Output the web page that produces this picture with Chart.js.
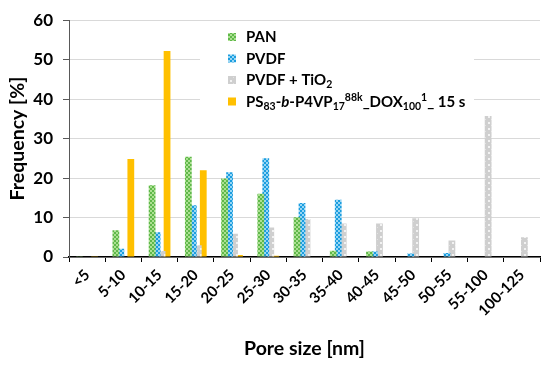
<!DOCTYPE html>
<html><head><meta charset="utf-8">
<script src="https://cdn.jsdelivr.net/npm/chart.js@4/dist/chart.umd.min.js"></script>
<style>html,body{margin:0;padding:0;background:#fff}#wrap{width:550px;height:365px}</style>
</head><body><div id="wrap"><canvas id="c" width="550" height="365"></canvas></div>
<script>
const categories = ['<5','5-10','10-15','15-20','20-25','25-30','30-35','35-40','40-45','45-50','50-55','55-100','100-125'];
const panValues      = [0.2, 6.8, 18.2, 25.4, 19.9, 16.0, 10.1, 1.6, 1.4, 0, 0, 0, 0];
const pvdfValues     = [0, 2.1, 6.3, 13.1, 21.5, 25.0, 13.7, 14.5, 1.4, 0.9, 1.0, 0, 0];
const pvdfTiO2Values = [0, 0, 1.5, 3.0, 5.9, 7.5, 9.6, 8.5, 8.5, 9.8, 4.2, 35.7, 5.0];
const psValues       = [0.2, 24.8, 52.2, 22.0, 0.5, 0.3, 0, 0, 0, 0, 0, 0, 0];
const seriesLabels = ['PAN', 'PVDF', 'PVDF + TiO<sub>2</sub>',
  'PS<sub>83</sub>-<i>b</i>-P4VP<sub>17</sub><sup>88k</sup>_DOX<sub>100</sub><sup>1</sup>_ 15 s'];
const yTicks = [0, 10, 20, 30, 40, 50, 60];
const xTitle = 'Pore size [nm]';
const yTitle = 'Frequency [%]';

function makePattern(kind) {
  const c = document.createElement('canvas');
  const g = c.getContext('2d');
  if (kind === 'green' || kind === 'blue') {
    c.width = 4; c.height = 4;
    g.fillStyle = kind === 'green' ? '#5fb84a' : '#1b9ddf';
    g.fillRect(0, 0, 4, 4);
    g.fillStyle = kind === 'green' ? '#ace092' : '#98d6f4';
    g.fillRect(0, 0, 2, 2); g.fillRect(2, 2, 2, 2);
  } else {
    c.width = 6; c.height = 6;
    g.fillStyle = '#cfcfcf'; g.fillRect(0, 0, 6, 6);
    g.fillStyle = '#f2f2f2'; g.fillRect(2, 2, 2, 2);
    g.fillStyle = '#e2e2e2'; g.fillRect(5, 5, 1, 1);
  }
  return document.getElementById('c').getContext('2d').createPattern(c, 'repeat');
}
const fills = [makePattern('green'), makePattern('blue'), makePattern('gray'), '#ffc000'];
const stripTags = s => s.replace(/<[^>]+>/g, '');

const richLegend = {
  id: 'richLegend',
  afterDatasetsDraw(chart) {
    const ctx = chart.ctx;
    ctx.save();
    ctx.fillStyle = '#fff';
    ctx.fillRect(200, 22, 274, 95);
    const rows = [37, 58.5, 80, 101.5];
    seriesLabels.forEach((lab, i) => {
      const cy = rows[i];
      ctx.fillStyle = fills[i];
      ctx.fillRect(228, cy - 4, 8, 8);
      let x = 246;
      const re = /<(sub|sup|i)>(.*?)<\/\1>|([^<]+)/g;
      let m;
      ctx.fillStyle = '#000';
      ctx.textBaseline = 'alphabetic';
      while ((m = re.exec(lab))) {
        let txt, font, dy = 0;
        if (m[3] !== undefined) { txt = m[3]; font = 'bold 15px Lato'; }
        else if (m[1] === 'i') { txt = m[2]; font = 'italic bold 15px Lato'; }
        else { txt = m[2]; font = 'bold 10.5px Lato'; dy = m[1] === 'sub' ? 3 : -6; }
        ctx.font = font;
        ctx.fillText(txt, x, cy + 5 + dy);
        x += ctx.measureText(txt).width;
      }
    });
    ctx.restore();
  }
};

const dataSeries = [panValues, pvdfValues, pvdfTiO2Values, psValues];
new Chart(document.getElementById('c'), {
  type: 'bar',
  data: {
    labels: categories,
    datasets: dataSeries.map((vals, i) => ({
      label: stripTags(seriesLabels[i]),
      data: vals,
      backgroundColor: fills[i],
      borderWidth: 0
    }))
  },
  options: {
    responsive: false, animation: false, devicePixelRatio: 1,
    layout: { padding: { left: 0, right: 10, top: 15, bottom: 0 } },
    plugins: { legend: { display: false }, tooltip: { enabled: false } },
    datasets: { bar: { categoryPercentage: 0.55, barPercentage: 1.36 } },
    scales: {
      x: {
        grid: { display: true, offset: true, drawOnChartArea: false, drawTicks: true, tickLength: 5, tickColor: '#000', lineWidth: 1 },
        border: { display: true, color: '#000', width: 1.5 },
        ticks: { font: { family: 'Lato', weight: 'bold', size: 15 }, color: '#000', maxRotation: 45, minRotation: 45, autoSkip: false, padding: 4 },
        title: { display: true, text: xTitle, font: { family: 'Lato', weight: 'bold', size: 19.5 }, color: '#000', padding: { top: 0, bottom: 4.5 } },
        afterFit(s) { s.height = 108; }
      },
      y: {
        min: 0, max: 60,
        afterBuildTicks(s) { s.ticks = yTicks.map(v => ({ value: v })); },
        grid: { color: '#d9d9d9', tickColor: '#595959', tickLength: 6, lineWidth: 1 },
        border: { display: true, color: '#595959', width: 1 },
        ticks: { font: { family: 'Lato', weight: 'bold', size: 17 }, color: '#000', padding: 10 },
        title: { display: true, text: yTitle, font: { family: 'Lato', weight: 'bold', size: 19.5 }, color: '#000', padding: { top: 6, bottom: 0 } },
        afterFit(s) { s.width = 69; }
      }
    }
  },
  plugins: [richLegend]
});
</script></body></html>
